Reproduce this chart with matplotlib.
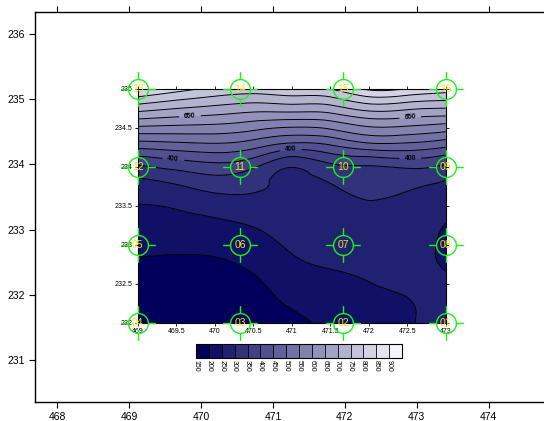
import matplotlib.pyplot as plt
import matplotlib.tri as mtri
import numpy as np
from matplotlib.colors import LinearSegmentedColormap
from matplotlib.path import Path

plt.rcParams['font.family'] = ['Liberation Sans', 'DejaVu Sans']

grid_x = [469, 469.5, 470, 470.5, 471, 471.5, 472, 472.5, 473]
grid_y = [235, 234.75, 234.5, 234.25, 234, 233.75, 233.5, 233.25, 233,
          232.75, 232.5, 232.25, 232]
grid_z = [
    [855, 820, 790, 777, 790, 802, 860, 850, 825],
    [723, 702, 686, 671, 675, 680, 719, 710, 700],
    [591, 586, 582, 565, 547, 558, 594, 591, 575],
    [459, 470, 479, 459, 418, 436, 469, 472, 450],
    [342, 365, 382, 357, 302, 337, 346, 357, 338],
    [280, 295, 317, 310, 289, 297, 314, 305, 291],
    [248, 255, 272, 279, 278, 286, 293, 292, 269],
    [230, 231, 239, 252, 267, 275, 282, 283, 248],
    [212, 209, 214, 231, 256, 264, 272, 274, 238],
    [194, 193, 193, 210, 242, 253, 260, 265, 245],
    [185, 183, 182, 192, 223, 240, 249, 256, 258],
    [178, 176, 175, 185, 205, 226, 240, 248, 265],
    [172, 170, 170, 178, 189, 211, 232, 246, 270],
]

# poços
well_id = ['01', '02', '03', '04', '05', '06', '07', '08',
           '09', '10', '11', '12', '13', '14', '15', '16']
well_x = [473, 471.67, 470.33, 469, 469, 470.33, 471.67, 473,
          473, 471.67, 470.33, 469, 469, 470.33, 471.67, 473]
well_y = [232, 232, 232, 232, 233, 233, 233, 233,
          234, 234, 234, 234, 235, 235, 235, 235]

niveis = list(range(150, 951, 50))
niveis_rot = [400, 650]
rotulos_pos = [(469.68, 234.62), (472.54, 234.62),
               (469.46, 234.09), (470.99, 234.21), (472.54, 234.10)]

fig = plt.figure(figsize=(5.44, 4.21), dpi=100)

# eixo externo
ax = fig.add_axes([35 / 544, 1 - 401.7 / 421, 509 / 544, 389.4 / 421])
ax.set_xlim(467.69, 474.77)
ax.set_ylim(230.36, 236.33)
ax.set_xticks(range(468, 475))
ax.set_yticks(range(231, 237))
ax.tick_params(direction='out', top=True, length=4, width=0.8, labelsize=7.5)
ax.spines['right'].set_visible(False)
for s in ['left', 'bottom', 'top']:
    ax.spines[s].set_linewidth(1.0)

# mapa interno
ax2 = fig.add_axes([137.7 / 544, 1 - 322.7 / 421, 308 / 544, 234 / 421])
X, Y = np.meshgrid(grid_x, grid_y)
Z = np.array(grid_z, dtype=float)
tri = mtri.Triangulation(X.ravel(), Y.ravel())
refiner = mtri.UniformTriRefiner(tri)
tri_f, z_f = refiner.refine_field(Z.ravel(), subdiv=4)

cmap = LinearSegmentedColormap.from_list('azul', ['#00005c', '#7a7aab', '#f4f4fa'], N=len(niveis) - 1)
cf = ax2.tricontourf(tri_f, z_f, levels=niveis, cmap=cmap, extend='both')
outros = [n for n in niveis if n not in niveis_rot]
ax2.tricontour(tri_f, z_f, levels=outros, colors='black', linewidths=0.7)
cs = ax2.tricontour(tri_f, z_f, levels=niveis_rot, colors='black', linewidths=0.7)
txt = ax2.clabel(cs, manual=rotulos_pos, fmt='%d', fontsize=5, inline=True)
for t in txt:
    t.set_fontweight('bold')

ax2.set_xlim(469, 473)
ax2.set_ylim(232, 235)
ax2.set_xticks(np.arange(469, 473.01, 0.5))
ax2.set_yticks(np.arange(232, 235.01, 0.5))
ax2.xaxis.set_major_formatter(plt.FormatStrFormatter('%g'))
ax2.yaxis.set_major_formatter(plt.FormatStrFormatter('%g'))
ax2.tick_params(direction='out', top=True, right=True, length=2.5, width=0.6,
                labelsize=5, pad=1.5)

# marcador: círculo com cruz
ang = np.linspace(0, 2 * np.pi, 60)
verts = [(np.cos(a), np.sin(a)) for a in ang]
codes = [Path.MOVETO] + [Path.LINETO] * (len(ang) - 1)
for dx, dy in [(1, 0), (-1, 0), (0, 1), (0, -1)]:
    verts += [(dx, dy), (1.75 * dx, 1.75 * dy)]
    codes += [Path.MOVETO, Path.LINETO]
marcador = Path(verts, codes)

ax2.plot(well_x, well_y, linestyle='none', marker=marcador, markersize=25,
         markerfacecolor='none', markeredgecolor='#1cf01c', markeredgewidth=1.0,
         clip_on=False, zorder=5)
for wid, wx, wy in zip(well_id, well_x, well_y):
    ax2.text(wx, wy, wid, color='#e8e820', fontsize=7.5, ha='center', va='center',
             zorder=6, clip_on=False)

# escala de cores
cax = fig.add_axes([196 / 544, 1 - 357.7 / 421, 206 / 544, 13.7 / 421])
cb = fig.colorbar(cf, cax=cax, orientation='horizontal', drawedges=True,
                  ticks=niveis[:-1], extendfrac=0)
cb.ax.set_xlim(150, 950)
cb.dividers.set_linewidth(0.6)
cb.outline.set_linewidth(0.8)
cb.ax.tick_params(length=0, labelsize=5, labelrotation=270, pad=1.5, labelcolor='black')

plt.savefig('out.png', dpi=100)
